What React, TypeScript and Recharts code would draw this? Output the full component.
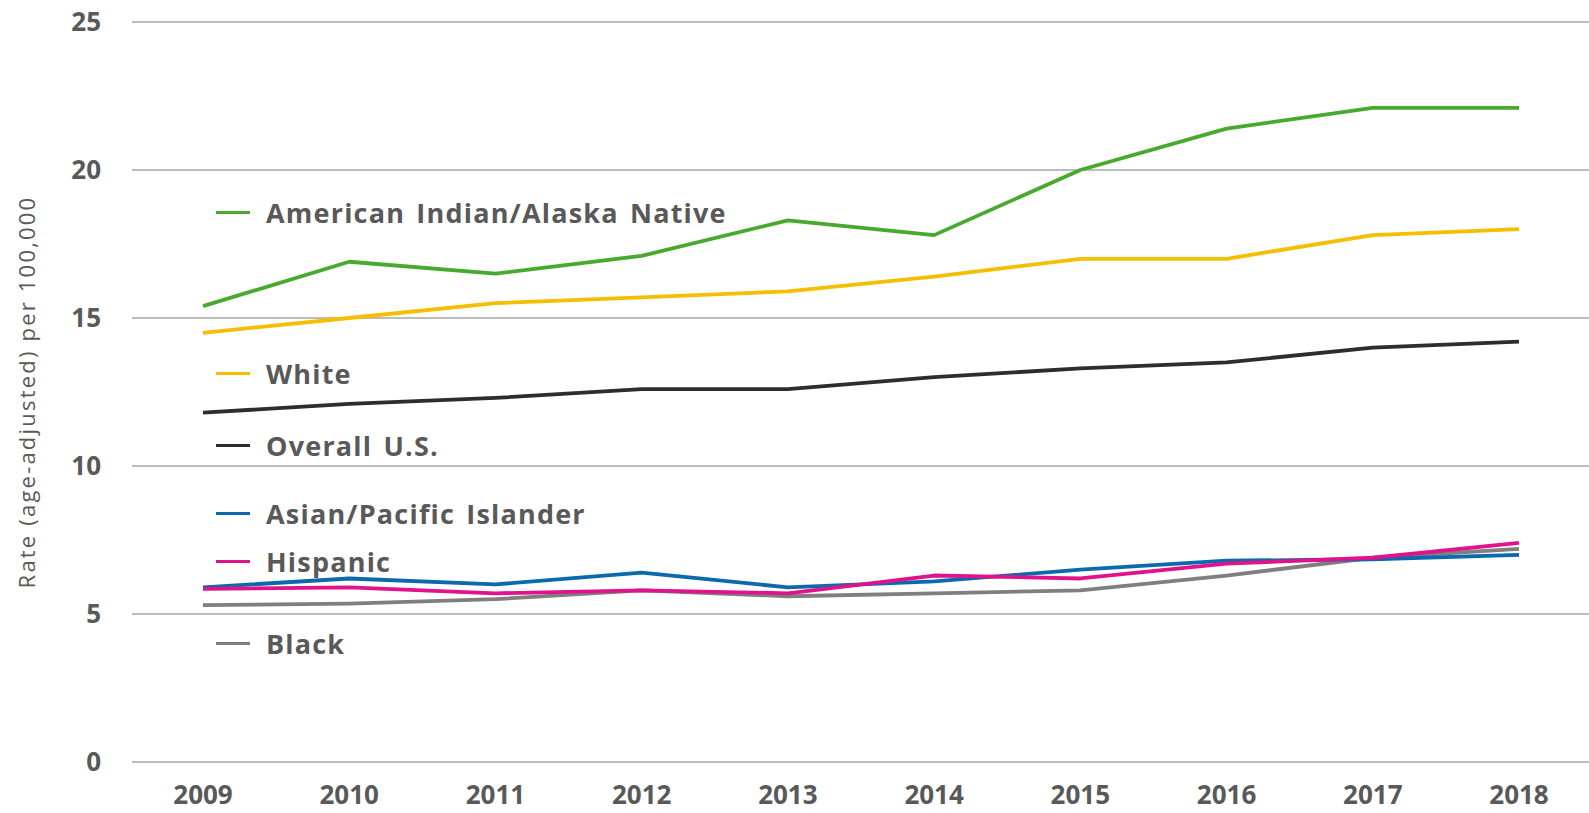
import React from "react";
import {
  LineChart,
  Line,
  XAxis,
  YAxis,
  CartesianGrid,
} from "recharts";

const YEARS = ["2009", "2010", "2011", "2012", "2013", "2014", "2015", "2016", "2017", "2018"];
const Y_TICKS = [0, 5, 10, 15, 20, 25];

const AIAN = [15.4, 16.9, 16.5, 17.1, 18.3, 17.8, 20.0, 21.4, 22.1, 22.1];
const WHITE = [14.5, 15.0, 15.5, 15.7, 15.9, 16.4, 17.0, 17.0, 17.8, 18.0];
const OVERALL = [11.8, 12.1, 12.3, 12.6, 12.6, 13.0, 13.3, 13.5, 14.0, 14.2];
const ASIAN_PI = [5.9, 6.2, 6.0, 6.4, 5.9, 6.1, 6.5, 6.8, 6.85, 7.0];
const HISPANIC = [5.85, 5.9, 5.7, 5.8, 5.7, 6.3, 6.2, 6.7, 6.9, 7.4];
const BLACK = [5.3, 5.35, 5.5, 5.8, 5.6, 5.7, 5.8, 6.3, 6.9, 7.2];

interface Series {
  key: string;
  name: string;
  color: string;
  values: number[];
}

// drawing order (later lines sit on top)
const SERIES: Series[] = [
  { key: "black", name: "Black", color: "#7f7f7f", values: BLACK },
  { key: "asian", name: "Asian/Pacific Islander", color: "#0b6aad", values: ASIAN_PI },
  { key: "hispanic", name: "Hispanic", color: "#e0138c", values: HISPANIC },
  { key: "overall", name: "Overall U.S.", color: "#2d2d2d", values: OVERALL },
  { key: "white", name: "White", color: "#f5be00", values: WHITE },
  { key: "aian", name: "American Indian/Alaska Native", color: "#47aa2f", values: AIAN },
];

// legend rows, top to bottom, with their vertical centre in px
const LEGEND_ORDER = ["aian", "white", "overall", "asian", "hispanic", "black"];
const LEGEND_TOP = [212, 373, 445, 513, 561, 643];

const data = YEARS.map((year, i) => {
  const row: Record<string, string | number> = { year };
  SERIES.forEach((s) => {
    row[s.key] = s.values[i];
  });
  return row;
});

const TEXT = "#595959";
const FONT = "'Open Sans', 'DejaVu Sans', sans-serif";

export default function App() {
  return (
    <div
      style={{
        position: "absolute",
        left: 0,
        top: 0,
        width: 1589,
        height: 813,
        background: "#fff",
        fontFamily: FONT,
      }}
    >
      <LineChart
        width={1589}
        height={813}
        data={data}
        margin={{ top: 22, right: 0, bottom: 0, left: 0 }}
      >
        <CartesianGrid vertical={false} stroke="#a6a6a6" strokeWidth={1.5} />
        <XAxis
          dataKey="year"
          height={51}
          axisLine={false}
          tickLine={false}
          tickSize={0}
          tickMargin={24}
          interval={0}
          padding={{ left: 71, right: 70 }}
          tick={{ fill: TEXT, fontSize: 26, fontWeight: 700, fontFamily: FONT }}
        />
        <YAxis
          domain={[0, 25]}
          ticks={Y_TICKS}
          width={132}
          axisLine={false}
          tickLine={false}
          tickSize={0}
          tickMargin={31}
          tick={{ fill: TEXT, fontSize: 26, fontWeight: 700, fontFamily: FONT }}
          label={{
            value: "Rate (age-adjusted) per 100,000",
            angle: -90,
            position: "insideLeft",
            dx: 22,
            dy: 0,
            style: {
              fill: TEXT,
              fontSize: 22,
              fontFamily: FONT,
              letterSpacing: 2.2,
              textAnchor: "middle",
            },
          }}
        />
        {SERIES.map((s) => (
          <Line
            key={s.key}
            type="linear"
            dataKey={s.key}
            name={s.name}
            stroke={s.color}
            strokeWidth={3.8}
            strokeLinejoin="round"
            dot={false}
            activeDot={false}
            isAnimationActive={false}
          />
        ))}
      </LineChart>
      {LEGEND_ORDER.map((key, i) => {
        const s = SERIES.find((x) => x.key === key)!;
        return (
          <div
            key={key}
            style={{
              position: "absolute",
              left: 216,
              top: LEGEND_TOP[i] - 18,
              height: 36,
              display: "flex",
              alignItems: "center",
              color: TEXT,
              fontSize: 27,
              fontWeight: 700,
              letterSpacing: 1.2,
              wordSpacing: 3,
              whiteSpace: "nowrap",
            }}
          >
            <span
              style={{
                display: "inline-block",
                width: 34,
                height: 3,
                background: s.color,
                marginRight: 16,
              }}
            />
            {s.name}
          </div>
        );
      })}
    </div>
  );
}
